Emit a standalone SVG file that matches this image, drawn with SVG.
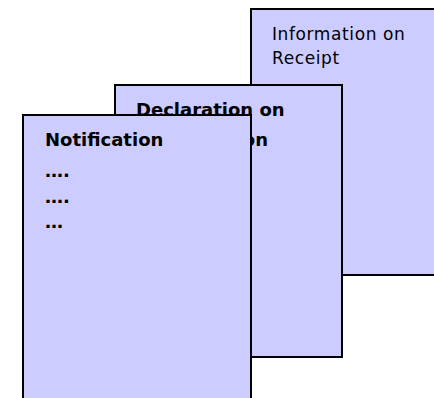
<svg xmlns="http://www.w3.org/2000/svg" width="434" height="398" viewBox="0 0 434 398">
<style>
.card{fill:#CCCCFF;stroke:#000;stroke-width:2}
.reg{font-family:"DejaVu Sans",sans-serif;font-size:17px;letter-spacing:0.6px;fill:#000}
.bold{font-family:"DejaVu Sans",sans-serif;font-size:18px;font-weight:bold;fill:#000}
</style>
<rect width="434" height="398" fill="#fff"/>
<g id="info-receipt">
<rect class="card" x="251" y="9" width="200" height="266"/>
<text class="reg" x="272" y="39.5">Information on</text>
<text class="reg" x="272" y="64">Receipt</text>
</g>
<g id="declaration">
<rect class="card" x="115" y="85" width="227" height="272"/>
<text class="bold" x="136" y="116">Declaration on</text>
<text class="bold" x="268" y="146" text-anchor="end">Reception</text>
</g>
<g id="notification">
<rect class="card" x="23" y="115" width="228" height="300"/>
<text class="bold" x="45" y="146">Notification</text>
<text class="bold" x="45" y="177">….</text>
<text class="bold" x="45" y="203">….</text>
<text class="bold" x="45" y="228">…</text>
</g>
</svg>
